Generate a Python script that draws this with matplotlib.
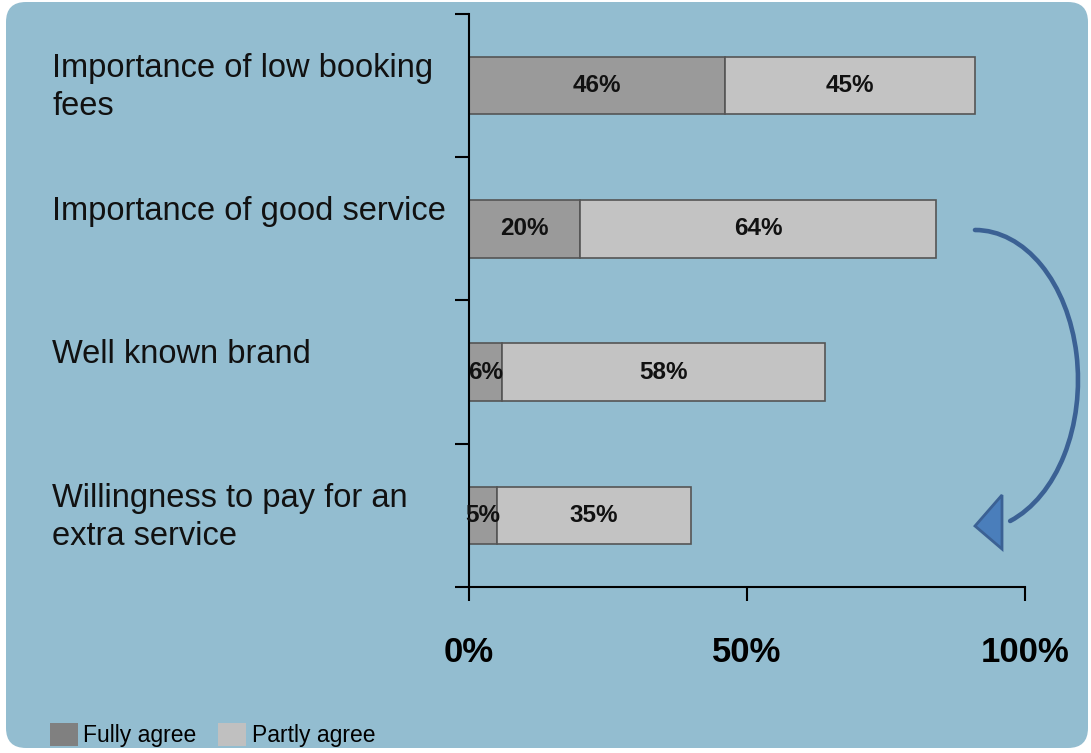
import matplotlib.pyplot as plt
import numpy as np
from matplotlib.patches import Arc, FancyBboxPatch, Patch, Polygon

plt.rcParams['font.family'] = ['Liberation Sans', 'DejaVu Sans']

categories = ['Importance of low booking\nfees', 'Importance of good service',
              'Well known brand', 'Willingness to pay for an\nextra service']
fully_agree = [46, 20, 6, 5]
partly_agree = [45, 64, 58, 35]
x_ticks = [0, 50, 100]
x_tick_labels = ['0%', '50%', '100%']

BG = '#93bdd0'
DARK = '#9a9a9a'
LIGHT = '#c3c3c3'

fig = plt.figure(figsize=(10.91, 7.53), dpi=100)
fig.patch.set_facecolor('white')

# rounded slide-style panel behind everything
panel = FancyBboxPatch((0.06, 0.05), 10.82, 7.46, boxstyle='round,pad=0,rounding_size=0.2',
                       transform=fig.dpi_scale_trans, facecolor=BG, edgecolor='none', zorder=-5)
fig.patches.append(panel)

ax = fig.add_axes([0.4299, 0.2205, 0.5096, 0.7609])
ax.set_facecolor('none')

y = np.arange(len(categories))
bar_h = 0.4
ax.barh(y, fully_agree, height=bar_h, color=DARK, edgecolor='#555555', linewidth=1.2)
ax.barh(y, partly_agree, left=fully_agree, height=bar_h, color=LIGHT,
        edgecolor='#555555', linewidth=1.2)

for i in range(len(categories)):
  ax.text(fully_agree[i] / 2, i, f'{fully_agree[i]}%', ha='center', va='center',
          fontsize=17.5, fontweight='bold', color='#111111')
  ax.text(fully_agree[i] + partly_agree[i] / 2, i, f'{partly_agree[i]}%', ha='center',
          va='center', fontsize=17.5, fontweight='bold', color='#111111')

ax.set_xlim(0, 100)
ax.set_ylim(len(categories) - 0.5, -0.5)
ax.set_xticks(x_ticks)
ax.set_xticklabels(x_tick_labels, fontsize=25, fontweight='bold')
ax.set_yticks(np.arange(-0.5, len(categories), 1))
ax.set_yticklabels([])
ax.tick_params(axis='x', direction='out', length=10, width=1.5, pad=25)
ax.tick_params(axis='y', direction='out', length=10, width=1.5)
for side in ['top', 'right']:
  ax.spines[side].set_visible(False)
for side in ['left', 'bottom']:
  ax.spines[side].set_linewidth(1.5)

# category labels sit left-aligned in the panel, top-aligned with their bars
for i, label in enumerate(categories):
  ax.annotate(label, xy=(0.048, i - bar_h / 2), xycoords=('figure fraction', 'data'),
              xytext=(0, 3), textcoords='offset points', ha='left', va='top',
              fontsize=23.5, color='#111111', linespacing=1.32)

# curved arrow on the right (inches, from the bottom-left corner)
arc = Arc((9.75, 3.73), 2.06, 3.0, theta1=-76, theta2=90, transform=fig.dpi_scale_trans,
          color='#3b6194', linewidth=3.3, capstyle='round')
fig.add_artist(arc)
head = Polygon([(9.75, 7.53 - 5.26), (10.02, 7.53 - 4.95), (10.02, 7.53 - 5.49)],
               closed=True, transform=fig.dpi_scale_trans,
               facecolor='#4a7ebb', edgecolor='#3b6194', linewidth=2)
fig.add_artist(head)

handles = [Patch(facecolor='#808080', edgecolor='none'),
           Patch(facecolor='#c0c0c0', edgecolor='none')]
fig.legend(handles, ['Fully agree', 'Partly agree'], loc='center left',
           bbox_to_anchor=(0.046, 1 - 735 / 753), ncol=2, frameon=False,
           fontsize=16.5, handlelength=1.2, handleheight=1.2, handletextpad=0.25,
           columnspacing=0.95, borderpad=0, borderaxespad=0)

fig.savefig('out.png', dpi=100)
